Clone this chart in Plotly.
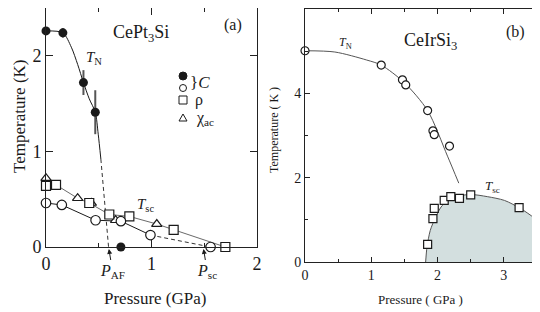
import plotly.graph_objects as go

# ---------------- Panel (a): CePt3Si ----------------
a_TN_P = [0.0, 0.16, 0.355, 0.467]
a_TN_T = [2.26, 2.24, 1.72, 1.41]
a_TN_err = [0.0, 0.05, 0.13, 0.23]
a_zero_P = [0.71]
a_zero_T = [0.0]
a_Csc_P = [0.0, 0.15, 0.47, 0.71, 0.99, 1.56]
a_Csc_T = [0.46, 0.44, 0.28, 0.27, 0.125, 0.0]
a_Csc_err = [0.0, 0.05, 0.0, 0.0, 0.0, 0.0]
a_rho_P = [0.0, 0.095, 0.41, 0.60, 0.79, 1.21, 1.70]
a_rho_T = [0.64, 0.65, 0.46, 0.34, 0.32, 0.18, 0.0]
a_chi_P = [0.0, 0.30, 0.43, 0.66, 1.05]
a_chi_T = [0.72, 0.51, 0.46, 0.28, 0.24]
# guide lines
a_TNfit_P = [0.0, 0.16, 0.24, 0.30, 0.355, 0.41, 0.467, 0.495, 0.52]
a_TNfit_T = [2.26, 2.24, 2.09, 1.91, 1.72, 1.55, 1.41, 1.18, 0.92]
a_TNext_P = [0.52, 0.593]
a_TNext_T = [0.92, 0.0]
a_upper_P = [0.0, 0.095, 0.30, 0.41, 0.60, 0.79, 1.05, 1.21, 1.70]
a_upper_T = [0.64, 0.65, 0.51, 0.46, 0.34, 0.32, 0.24, 0.18, 0.0]
a_lower_P = [0.0, 0.15, 0.47, 0.71, 0.99]
a_lower_T = [0.46, 0.44, 0.28, 0.27, 0.125]
a_lowerext_P = [0.99, 1.56]
a_lowerext_T = [0.125, 0.0]
a_P_AF = 0.593
a_P_sc = 1.49
a_xticks = [0, 1, 2]
a_yticks = [0, 1, 2]

# ---------------- Panel (b): CeIrSi3 ----------------
b_TN_P = [0.0, 1.15, 1.47, 1.52, 1.85, 1.93, 1.95, 2.18]
b_TN_T = [5.01, 4.67, 4.32, 4.20, 3.59, 3.11, 3.02, 2.75]
b_sc_P = [1.85, 1.93, 1.95, 2.10, 2.20, 2.33, 2.50, 3.23]
b_sc_T = [0.42, 1.03, 1.27, 1.46, 1.55, 1.51, 1.59, 1.29]
b_TNfit_P = [0.0, 0.45, 0.93, 1.15, 1.50, 1.85, 2.15, 2.32]
b_TNfit_T = [5.01, 4.98, 4.79, 4.67, 4.25, 3.59, 2.51, 1.87]
b_scfit_P = [1.82, 1.84, 1.89, 1.97, 2.07, 2.25, 2.50, 2.75, 3.01, 3.26, 3.50]
b_scfit_T = [0.0, 0.35, 0.75, 1.06, 1.34, 1.54, 1.60, 1.55, 1.46, 1.26, 1.00]
b_xticks = [0, 1, 2, 3]
b_yticks = [0, 2, 4, 6]

# page body has an 8px margin: the figure is placed at (8, 8)
OFF = 8
W, H = 540 - OFF, 312 - OFF
SERIF = "Liberation Serif, Times New Roman, serif"
INK = "#1a1a1a"


def px(x):
    return min(1.0, max(0.0, (x - OFF) / W))


def py(y):
    return min(1.0, max(0.0, 1 - (y - OFF) / H))


fig = go.Figure()

# --- panel (a) lines
fig.add_trace(go.Scatter(x=a_TNfit_P, y=a_TNfit_T, mode="lines", line=dict(color=INK, width=1, shape="spline", smoothing=0.8),
                         xaxis="x", yaxis="y", hoverinfo="skip"))
fig.add_trace(go.Scatter(x=a_TNext_P, y=a_TNext_T, mode="lines", line=dict(color="#333", width=1, dash="4px,3px"),
                         xaxis="x", yaxis="y", hoverinfo="skip"))
fig.add_trace(go.Scatter(x=a_upper_P, y=a_upper_T, mode="lines", line=dict(color="#444", width=0.8),
                         xaxis="x", yaxis="y", hoverinfo="skip"))
fig.add_trace(go.Scatter(x=a_lower_P, y=a_lower_T, mode="lines", line=dict(color=INK, width=1),
                         xaxis="x", yaxis="y", hoverinfo="skip"))
fig.add_trace(go.Scatter(x=a_lowerext_P, y=a_lowerext_T, mode="lines", line=dict(color="#333", width=1, dash="4px,3px"),
                         xaxis="x", yaxis="y", hoverinfo="skip"))


def open_marker(sym, size):
    return dict(symbol=sym, size=size, color="white", line=dict(color=INK, width=1.2))


fig.add_trace(go.Scatter(x=a_chi_P, y=a_chi_T, mode="markers", marker=open_marker("triangle-up", 9),
                         xaxis="x", yaxis="y", cliponaxis=False))
fig.add_trace(go.Scatter(x=a_rho_P, y=a_rho_T, mode="markers", marker=open_marker("square", 9),
                         xaxis="x", yaxis="y", cliponaxis=False))
fig.add_trace(go.Scatter(x=a_Csc_P, y=a_Csc_T, mode="markers", marker=open_marker("circle", 9.5),
                         error_y=dict(type="data", array=a_Csc_err, color="#555", thickness=1.5, width=0),
                         xaxis="x", yaxis="y", cliponaxis=False))
fig.add_trace(go.Scatter(x=a_TN_P, y=a_TN_T, mode="markers", marker=dict(symbol="circle", size=9, color=INK),
                         error_y=dict(type="data", array=a_TN_err, color="#555", thickness=2, width=0),
                         xaxis="x", yaxis="y", cliponaxis=False))
fig.add_trace(go.Scatter(x=a_zero_P, y=a_zero_T, mode="markers", marker=dict(symbol="circle", size=9, color=INK),
                         xaxis="x", yaxis="y", cliponaxis=False))

# --- panel (b)
fig.add_trace(go.Scatter(x=b_scfit_P, y=b_scfit_T, mode="lines", fill="tozeroy", fillcolor="#d3dfdf",
                         line=dict(color="#555", width=1, shape="spline", smoothing=0.8),
                         xaxis="x2", yaxis="y2", hoverinfo="skip"))
fig.add_trace(go.Scatter(x=b_TNfit_P, y=b_TNfit_T, mode="lines",
                         line=dict(color="#555", width=1, shape="spline", smoothing=0.8),
                         xaxis="x2", yaxis="y2", hoverinfo="skip"))
fig.add_trace(go.Scatter(x=b_TN_P, y=b_TN_T, mode="markers", marker=open_marker("circle", 8),
                         xaxis="x2", yaxis="y2", cliponaxis=False))
fig.add_trace(go.Scatter(x=b_sc_P, y=b_sc_T, mode="markers", marker=open_marker("square", 8),
                         xaxis="x2", yaxis="y2", cliponaxis=False))

axis_common = dict(showline=True, linecolor="#222", linewidth=1, mirror="ticks", ticks="inside",
                   tickcolor="#222", showgrid=False, zeroline=False, fixedrange=True, automargin=False)

fig.update_layout(
    template="none",
    width=W, height=H, margin=dict(l=0, r=0, t=0, b=0, pad=0), autosize=False,
    paper_bgcolor="white", plot_bgcolor="white", showlegend=False,
    font=dict(family=SERIF, color=INK),
    xaxis=dict(domain=[px(46), px(257)], range=[0, 2], tickvals=a_xticks, ticklen=7,
               tickfont=dict(size=18, family=SERIF, color=INK),
               minor=dict(ticks="inside", dtick=0.5, ticklen=4, tickcolor="#222", showgrid=False),
               anchor="y", **axis_common),
    yaxis=dict(domain=[py(247), py(8)], range=[0, 2.5], tickvals=a_yticks, ticklen=7,
               tickfont=dict(size=18, family=SERIF, color=INK), anchor="x", **axis_common),
    xaxis2=dict(domain=[px(305), px(537)], range=[0, 3.5], tickvals=b_xticks, ticklen=5,
                tickfont=dict(size=14, family=SERIF, color=INK),
                minor=dict(ticks="inside", dtick=0.5, ticklen=3, tickcolor="#222", showgrid=False),
                anchor="y2", **axis_common),
    yaxis2=dict(domain=[py(262), py(9)], range=[0, 6], tickvals=b_yticks, ticklen=5,
                tickfont=dict(size=14, family=SERIF, color=INK),
                minor=dict(ticks="inside", dtick=1, ticklen=3, tickcolor="#222", showgrid=False),
                anchor="x2", **axis_common),
)


def txt(text, x, y, size, xanchor="center", angle=0):
    fig.add_annotation(text=text, x=px(x), y=py(y), xref="paper", yref="paper", showarrow=False,
                       font=dict(size=size, family=SERIF, color=INK), xanchor=xanchor, yanchor="middle",
                       textangle=angle)


# panel (a) texts
txt("CePt<sub>3</sub>Si", 141, 33, 18)
txt("(a)", 233, 25, 16)
txt("<i>T</i><sub>N</sub>", 94, 58, 15)
txt("<i>T</i><sub>sc</sub>", 145, 205, 15)
txt("}<i>C</i>", 188, 82, 17, xanchor="left")
txt("ρ", 193, 100, 16, xanchor="left")
txt("χ<sub>ac</sub>", 194, 118, 16, xanchor="left")
txt("Pressure (GPa)", 155, 298, 17)
txt("Temperature (K)", 19, 116, 17, angle=-90)

# legend symbols (layout decoration)
fig.add_shape(type="circle", xref="paper", yref="paper", xsizemode="pixel", ysizemode="pixel",
              xanchor=px(183), yanchor=py(76), x0=-4, x1=4, y0=-4, y1=4, fillcolor=INK, line=dict(color=INK, width=1))
fig.add_shape(type="circle", xref="paper", yref="paper", xsizemode="pixel", ysizemode="pixel",
              xanchor=px(183), yanchor=py(88), x0=-3.5, x1=3.5, y0=-3.5, y1=3.5, fillcolor="white", line=dict(color=INK, width=1))
fig.add_shape(type="rect", xref="paper", yref="paper", xsizemode="pixel", ysizemode="pixel",
              xanchor=px(183), yanchor=py(100), x0=-4, x1=4, y0=-4, y1=4, fillcolor="white", line=dict(color=INK, width=1))
fig.add_shape(type="path", xref="paper", yref="paper", xsizemode="pixel", ysizemode="pixel",
              xanchor=px(183), yanchor=py(118), path="M -4,-3 L 4,-3 L 0,4 Z", fillcolor="white", line=dict(color=INK, width=1))

# arrows P_AF, P_sc
for P, lab in [(a_P_AF, "<i>P</i><sub>AF</sub>"), (a_P_sc, "<i>P</i><sub>sc</sub>")]:
    fig.add_annotation(text=lab, x=P, y=0, xref="x", yref="y", showarrow=True, ax=4, ay=24,
                       arrowhead=2, arrowsize=1, arrowwidth=1, arrowcolor=INK, standoff=2,
                       font=dict(size=16, family=SERIF, color=INK))

# panel (b) texts
txt("CeIrSi<sub>3</sub>", 430, 42, 18)
txt("(b)", 515, 32, 16)
txt("<i>T</i><sub>N</sub>", 345, 43, 12)
txt("<i>T</i><sub>sc</sub>", 492, 186, 13)
txt("Pressure ( GPa )", 420, 299, 13)
txt("Temperature ( K )", 274, 130, 12, angle=-90)

fig.write_html("out.html")
